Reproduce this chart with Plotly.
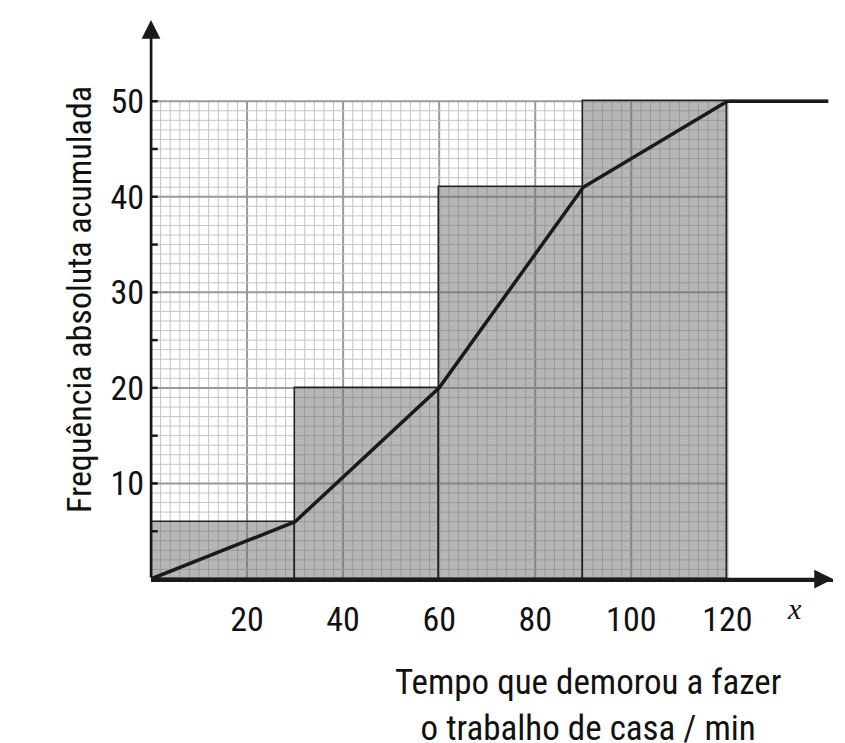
import plotly.graph_objects as go

bin_left = [0, 30, 60, 90]
bin_width = [30, 30, 30, 30]
cum_freq = [6, 20, 41, 50]
ogive_x = [0, 30, 60, 90, 120, 141]
ogive_y = [0, 6, 20, 41, 50, 50]
x_ticks = [20, 40, 60, 80, 100, 120]
y_ticks = [10, 20, 30, 40, 50]

FONT = "Liberation Sans Narrow, Roboto Condensed, Roboto, sans-serif"

fig = go.Figure()

# graph paper grid: fine lines every 2 min / 1 unit, heavier every 20 / 10
shapes = []
for gx in range(0, 121, 2):
    major = gx % 20 == 0
    shapes.append(dict(type="line", x0=gx, x1=gx, y0=0, y1=50, layer="below",
                       line=dict(color="#9a9a9a" if major else "#c4c4c4", width=2 if major else 1)))
for gy in range(0, 51, 1):
    major = gy % 10 == 0
    shapes.append(dict(type="line", x0=0, x1=120, y0=gy, y1=gy, layer="below",
                       line=dict(color="#9a9a9a" if major else "#c4c4c4", width=2 if major else 1)))

fig.add_trace(go.Bar(
    x=[l + w / 2 for l, w in zip(bin_left, bin_width)], y=cum_freq, width=bin_width,
    marker=dict(color="rgba(110,110,110,0.5)", line=dict(color="#222", width=1.5)),
    showlegend=False, hoverinfo="skip"))
fig.add_trace(go.Scatter(x=ogive_x, y=ogive_y, mode="lines",
                         line=dict(color="#1a1a1a", width=3.5), showlegend=False))

# axis arrows
fig.add_annotation(x=142, y=0, ax=0, ay=0, xref="x", yref="y", axref="x", ayref="y",
                   showarrow=True, arrowhead=2, arrowsize=1.5, arrowwidth=2.5, arrowcolor="#1a1a1a", text="")
fig.add_annotation(x=0, y=58.5, ax=0, ay=0, xref="x", yref="y", axref="x", ayref="y",
                   showarrow=True, arrowhead=2, arrowsize=1.5, arrowwidth=2.5, arrowcolor="#1a1a1a", text="")
fig.add_annotation(x=-1.5, y=-0.025, xref="x", yref="paper", text="0", showarrow=False,
                   xanchor="right", yanchor="top", font=dict(size=34, family=FONT))
fig.add_annotation(x=134, y=-0.02, xref="x", yref="paper", text="<i>x</i>", showarrow=False,
                   yanchor="top", font=dict(size=30, family="Liberation Serif, serif"))
fig.add_annotation(x=91, y=-0.145, xref="x", yref="paper",
                   text="Tempo que demorou a fazer<br>o trabalho de casa / min",
                   showarrow=False, yanchor="top", align="center",
                   font=dict(size=35, family=FONT, color="#111"))

fig.update_layout(
    width=845, height=743,
    margin=dict(l=143, r=20, t=12, b=172),
    plot_bgcolor="white", paper_bgcolor="white",
    font=dict(family=FONT, size=34, color="#111"),
    shapes=shapes, bargap=0,
)
fig.update_xaxes(range=[0, 142], tickvals=x_ticks, showgrid=False, zeroline=False,
                 showline=True, linecolor="#1a1a1a", linewidth=2.5,
                 ticks="", ticklabelstandoff=8)
fig.update_yaxes(range=[0, 58.5], tickvals=y_ticks, showgrid=False, zeroline=False,
                 showline=False, ticks="", ticklabelstandoff=6,
                 title=dict(text="Frequência absoluta acumulada", font=dict(size=34), standoff=8))
# y axis line drawn slightly below origin, with tick marks every 5
fig.add_shape(type="line", x0=0, x1=0, y0=-4, y1=57, line=dict(color="#1a1a1a", width=2.5))
for ty in range(5, 51, 5):
    fig.add_shape(type="line", x0=-1.4, x1=1.4, y0=ty, y1=ty, line=dict(color="#1a1a1a", width=2.5))
fig.add_shape(type="line", x0=120, x1=141, y0=50, y1=50, line=dict(color="#1a1a1a", width=3))
fig.write_html("out.html")
